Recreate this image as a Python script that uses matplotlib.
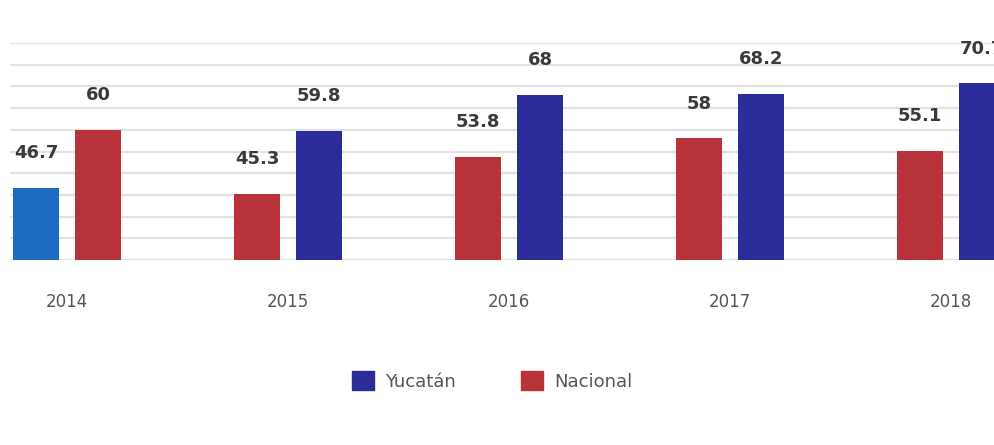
import numpy as np
import matplotlib
matplotlib.use("Agg")
import matplotlib.pyplot as plt
from matplotlib.patches import Patch

#-- Values (left bar / right bar of each year)
years = ["2014", "2015", "2016", "2017", "2018"]
left_vals = [46.7, 45.3, 53.8, 58, 55.1]
right_vals = [60, 59.8, 68, 68.2, 70.7]
legend_labels = ["Yucatán", "Nacional"]

#-- Colours
NAVY, RED, BLUE = "#2b2b99", "#b8323a", "#1b6cc0"
left_colors = [BLUE, RED, RED, RED, RED]
right_colors = [RED, NAVY, NAVY, NAVY, NAVY]

W, H = 995, 445
fig = plt.figure(figsize=(W / 100, H / 100), dpi=100)
fig.patch.set_facecolor("white")
ax = fig.add_axes([10 / W, (H - 260) / H, (W - 10) / W, (260 - 43) / H])

x = np.arange(len(years))
bw, off = 0.205, 0.14
ax.bar(x - off, left_vals, bw, color=left_colors, zorder=3)
ax.bar(x + off, right_vals, bw, color=right_colors, zorder=3)

#-- Value labels
for xi, v in zip(x - off, left_vals):
    ax.annotate(f"{v:g}", (xi, v), xytext=(0, 25), textcoords="offset points",
                ha="center", va="center", fontsize=13, fontweight="bold",
                color="#3a3a3a", annotation_clip=False)
for xi, v in zip(x + off, right_vals):
    ax.annotate(f"{v:g}", (xi, v), xytext=(0, 25), textcoords="offset points",
                ha="center", va="center", fontsize=13, fontweight="bold",
                color="#3a3a3a", annotation_clip=False)

ax.set_ylim(30, 80)
ax.set_yticks(np.arange(30, 81, 5))
ax.set_yticklabels([])
ax.set_xlim(-0.258, (W - 10) / 221 - 0.258)
ax.set_xticks(x)
ax.set_xticklabels(years, fontsize=12, color="#555555")
ax.tick_params(axis="x", length=0, pad=24)
ax.tick_params(axis="y", length=0)
ax.grid(axis="y", color="#e2e2e2", linewidth=1.6, zorder=0)
for s in ax.spines.values():
    s.set_visible(False)

handles = [Patch(color=NAVY), Patch(color=RED)]
fig.legend(handles, legend_labels, loc="center", bbox_to_anchor=(492 / W, 1 - 381 / H),
           ncol=2, frameon=False, fontsize=13, labelcolor="#555555",
           handlelength=1.25, handleheight=1.25, handletextpad=0.6, columnspacing=3.6)

fig.savefig("out.png", dpi=100)
